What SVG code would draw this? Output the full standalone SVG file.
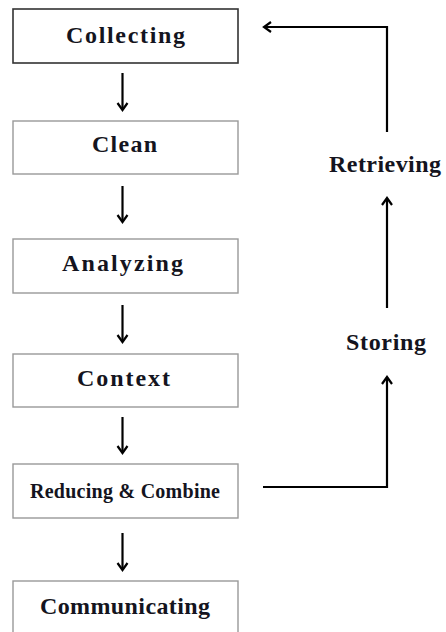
<svg xmlns="http://www.w3.org/2000/svg" width="446" height="632" viewBox="0 0 446 632">
  <style>
    .box { fill: #ffffff; stroke: #999999; stroke-width: 1.4; }
    .box.first { stroke: #333333; stroke-width: 1.6; }
    .label { font-family: "Liberation Serif", "Times New Roman", serif; font-weight: bold; font-size: 24px; fill: #141420; text-anchor: start; }
    .small { font-size: 20px; }
    .wire { fill: none; stroke: #000000; stroke-width: 2.2; stroke-linejoin: miter; }
  </style>
  <defs>
    <marker id="chevron" markerUnits="userSpaceOnUse" markerWidth="14" markerHeight="14" viewBox="-10 -7 12 14" refX="0" refY="0" orient="auto">
      <path d="M-7,-5 L0,0 L-7,5" fill="none" stroke="#000" stroke-width="2.2"/>
    </marker>
  </defs>
  <rect width="446" height="632" fill="#ffffff"/>

  <g id="collecting">
    <rect class="box first" x="13" y="9" width="225" height="54"/>
    <text class="label" x="66" y="43" textLength="119" lengthAdjust="spacing">Collecting</text>
  </g>
  <g id="clean">
    <rect class="box" x="13" y="121" width="225" height="53"/>
    <text class="label" x="92" y="152" textLength="65" lengthAdjust="spacing">Clean</text>
  </g>
  <g id="analyzing">
    <rect class="box" x="13" y="239" width="225" height="54"/>
    <text class="label" x="62" y="271" textLength="121" lengthAdjust="spacing">Analyzing</text>
  </g>
  <g id="context">
    <rect class="box" x="13" y="354" width="225" height="53"/>
    <text class="label" x="77" y="386" textLength="93" lengthAdjust="spacing">Context</text>
  </g>
  <g id="reducing">
    <rect class="box" x="13" y="464" width="225" height="54"/>
    <text class="label small" x="30" y="498" textLength="190" lengthAdjust="spacing">Reducing &amp; Combine</text>
  </g>
  <g id="communicating">
    <rect class="box" x="13" y="581" width="225" height="60"/>
    <text class="label" x="40" y="614" textLength="170" lengthAdjust="spacing">Communicating</text>
  </g>
  <g id="storing">
    <text class="label" x="346" y="350" textLength="80" lengthAdjust="spacing">Storing</text>
  </g>
  <g id="retrieving">
    <text class="label" x="329" y="172" textLength="112" lengthAdjust="spacing">Retrieving</text>
  </g>

  <g id="connectors">
    <path class="wire" marker-end="url(#chevron)" d="M122.5,73 V110"/>
    <path class="wire" marker-end="url(#chevron)" d="M122.5,186 V222"/>
    <path class="wire" marker-end="url(#chevron)" d="M122.5,305 V342"/>
    <path class="wire" marker-end="url(#chevron)" d="M122.5,417 V453"/>
    <path class="wire" marker-end="url(#chevron)" d="M122.5,533 V570"/>
    <path class="wire" marker-end="url(#chevron)" d="M263,487 H387 V377"/>
    <path class="wire" marker-end="url(#chevron)" d="M387,308 V198"/>
    <path class="wire" marker-end="url(#chevron)" d="M387,132 V27 H264"/>
  </g>
</svg>
